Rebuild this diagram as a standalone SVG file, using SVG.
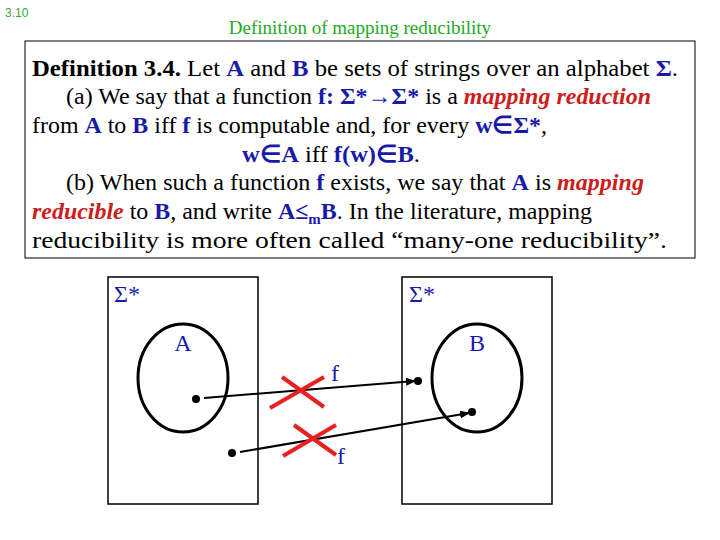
<svg xmlns="http://www.w3.org/2000/svg" width="720" height="540" viewBox="0 0 720 540">
<style>
text{font-family:'Liberation Serif','Times New Roman',Times,serif}
.t{font-size:24px;fill:#000}
.b{font-weight:bold;fill:#1a1aa8}
.r{font-weight:bold;font-style:italic;fill:#cc2020}
.k{font-weight:bold;fill:#000}
.lbl{font-size:24px;fill:#1a1aa8}
.box{fill:none;stroke:#000;stroke-width:1.5}
.ell{fill:none;stroke:#000;stroke-width:3}
.x{stroke:#e82020;stroke-width:4}
.edge{stroke:#000;stroke-width:2;fill:none}
</style>
<defs>
<marker id="ah" markerWidth="10" markerHeight="8" refX="9" refY="4" orient="auto" markerUnits="userSpaceOnUse">
<path d="M0,0 L10,4 L0,8 Z" fill="#000"/>
</marker>
</defs>
<rect width="720" height="540" fill="#fff"/>
<text x="5" y="17" style="font-family:'Liberation Sans',Arial,sans-serif" font-size="12" fill="#33aa33">3.10</text>
<text x="360" y="34" text-anchor="middle" font-size="19" fill="#22aa22">Definition of mapping reducibility</text>
<g id="definition">
<rect x="25" y="41" width="670" height="217" fill="none" stroke="#000" stroke-width="1"/>
<text class="t" x="32" y="76" textLength="646" lengthAdjust="spacingAndGlyphs"><tspan class="k">Definition 3.4.</tspan> Let  <tspan class="b">A</tspan>  and  <tspan class="b">B</tspan>  be sets of strings over an alphabet <tspan class="b">Σ</tspan>.</text>
<text class="t" x="66" y="104" textLength="585" lengthAdjust="spacingAndGlyphs">(a) We say that a function <tspan class="b">f: Σ*→Σ*</tspan> is a <tspan class="r">mapping reduction</tspan></text>
<text class="t" x="32" y="133" textLength="515" lengthAdjust="spacingAndGlyphs">from <tspan class="b">A</tspan> to <tspan class="b">B</tspan> iff <tspan class="b">f</tspan> is computable and, for every  <tspan class="b">w∈Σ*</tspan>,</text>
<text class="t" x="242" y="162" textLength="178" lengthAdjust="spacingAndGlyphs"><tspan class="b">w∈A</tspan>  iff  <tspan class="b">f(w)∈B</tspan>.</text>
<text class="t" x="66" y="190" textLength="578" lengthAdjust="spacingAndGlyphs">(b) When such a function <tspan class="b">f</tspan> exists, we say that <tspan class="b">A</tspan> is <tspan class="r">mapping</tspan></text>
<text class="t" x="32" y="219" textLength="560" lengthAdjust="spacingAndGlyphs"><tspan class="r">reducible</tspan> to <tspan class="b">B</tspan>, and write <tspan class="b">A≤</tspan><tspan class="b" font-size="15" dy="5">m</tspan><tspan class="b" dy="-5">B</tspan>. In the literature, mapping</text>
<text class="t" x="32" y="248" textLength="635" lengthAdjust="spacingAndGlyphs">reducibility is more often called “many-one reducibility”.</text>
</g>
<g id="domain">
<rect class="box" x="108" y="277" width="150" height="227"/>
<text class="lbl" x="114" y="302">Σ*</text>
</g>
<g id="codomain">
<rect class="box" x="402" y="277" width="150" height="227"/>
<text class="lbl" x="409" y="302">Σ*</text>
</g>
<g id="setA">
<ellipse class="ell" cx="183" cy="378" rx="45" ry="54"/>
<text class="lbl" x="183" y="351" text-anchor="middle">A</text>
</g>
<g id="setB">
<ellipse class="ell" cx="477" cy="378" rx="45" ry="54"/>
<text class="lbl" x="477" y="351" text-anchor="middle">B</text>
</g>
<g id="dots">
<circle cx="196" cy="399" r="4"/>
<circle cx="232" cy="453" r="4"/>
<circle cx="418" cy="381" r="4"/>
<circle cx="472" cy="412" r="4"/>
</g>
<g id="connectors">
<line class="edge" x1="204" y1="398" x2="415" y2="381" marker-end="url(#ah)"/>
<line class="edge" x1="240" y1="452" x2="469" y2="413" marker-end="url(#ah)"/>
<line class="x" x1="270" y1="408" x2="324" y2="377"/>
<line class="x" x1="282" y1="377" x2="324" y2="407"/>
<line class="x" x1="283" y1="456" x2="336" y2="425"/>
<line class="x" x1="294" y1="425" x2="336" y2="455"/>
<text class="lbl" x="331" y="381">f</text>
<text class="lbl" x="337" y="464">f</text>
</g>
</svg>
